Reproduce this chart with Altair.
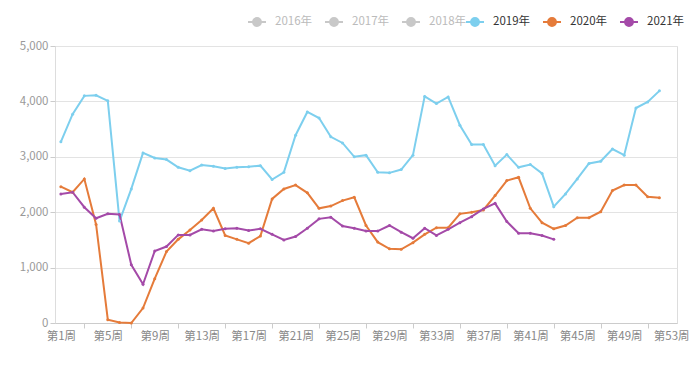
import altair as alt
import pandas as pd

# ---- data ----
years_shown = ["2019年", "2020年", "2021年"]
years_hidden = ["2016年", "2017年", "2018年"]

v2019 = [3270, 3770, 4100, 4110, 4010, 1840, 2420, 3070, 2980, 2950,
         2810, 2750, 2850, 2830, 2790, 2810, 2820, 2840, 2590, 2720,
         3390, 3810, 3700, 3360, 3250, 3000, 3030, 2720, 2710, 2770,
         3030, 4090, 3960, 4080, 3570, 3220, 3220, 2840, 3040, 2810,
         2860, 2700, 2100, 2330, 2600, 2880, 2920, 3140, 3030, 3880,
         3990, 4190]
v2020 = [2460, 2360, 2600, 1780, 60, 10, 0, 270, 800, 1290,
         1510, 1680, 1860, 2070, 1580, 1510, 1440, 1570, 2240, 2420,
         2490, 2350, 2070, 2110, 2210, 2270, 1760, 1460, 1340, 1330,
         1450, 1600, 1720, 1720, 1970, 2000, 2040, 2300, 2570, 2630,
         2070, 1810, 1700, 1760, 1900, 1900, 2010, 2390, 2490, 2490,
         2280, 2260]
v2021 = [2330, 2360, 2090, 1890, 1970, 1960, 1050, 700, 1300, 1380,
         1590, 1590, 1690, 1660, 1700, 1710, 1670, 1700, 1600, 1500,
         1560, 1710, 1880, 1910, 1750, 1710, 1660, 1660, 1760, 1640,
         1530, 1710, 1580, 1690, 1810, 1920, 2060, 2160, 1830, 1620,
         1620, 1580, 1510]

n_weeks = 53
x_label_weeks = list(range(1, 54, 4))
x_tick_weeks = list(range(3, 52, 4))
y_ticks = [0, 1000, 2000, 3000, 4000, 5000]

colors_shown = ["#7dcfee", "#e57b3a", "#a44aa8"]
colors_hidden = ["#c8c8c8", "#c8c8c8", "#c8c8c8"]

rows = []
for yr, vals in zip(years_shown, [v2019, v2020, v2021]):
    for i, v in enumerate(vals):
        rows.append({"year": yr, "week": i + 1, "value": v})
df = pd.DataFrame(rows)

dummy = pd.DataFrame({"year": years_hidden, "week": [1, 1, 1],
                      "value": [None, None, None]})

FONT = "Noto Sans CJK SC"


def circ(r):
    return f"M{r},0A{r},{r},0,1,1,{-r},0A{r},{r},0,1,1,{r},0"


sym_path = "M-1,0L1,0" + "".join(circ(r) for r in [0.44, 0.33, 0.22, 0.11])

label_expr = ("indexof(" + str(x_label_weeks) + ", datum.value) >= 0 ? "
              "'第' + datum.value + '周' : ''")
tick_test = "indexof(" + str(x_tick_weeks) + ", datum.value) >= 0"

x_enc = alt.X(
    "week:Q",
    scale=alt.Scale(domain=[0.5, n_weeks + 0.5], nice=False, zero=False),
    axis=alt.Axis(
        values=sorted(x_label_weeks + x_tick_weeks),
        labelExpr=label_expr,
        labelFlush=False,
        labelOverlap=False,
        grid=False,
        title=None,
        tickSize=5,
        tickColor="#cccccc",
        tickOpacity={"condition": {"test": tick_test, "value": 1}, "value": 0},
        domainColor="#cccccc",
        labelColor="#888888",
        labelFont=FONT,
        labelFontSize=11.5,
        labelPadding=2,
    ),
)
y_enc = alt.Y(
    "value:Q",
    scale=alt.Scale(domain=[0, 5000], nice=False),
    axis=alt.Axis(
        values=y_ticks,
        format=",d",
        title=None,
        grid=True,
        gridColor="#e3e3e3",
        domain=False,
        tickSize=5,
        tickColor="#cccccc",
        labelColor="#999999",
        labelFont=FONT,
        labelFontSize=11.5,
        labelPadding=2,
    ),
)

legend_common = dict(
    orient="none",
    direction="horizontal",
    title=None,
    symbolType=sym_path,
    symbolSize=324,
    symbolStrokeWidth=2,
    labelFont=FONT,
    labelFontSize=11.5,
    labelOffset=8,
    columnPadding=8,
    padding=0,
    legendY=-34,
)

color_enc = alt.Color(
    "year:N",
    scale=alt.Scale(domain=years_shown, range=colors_shown),
    legend=alt.Legend(legendX=410, labelColor="#333333", **legend_common),
)

lines = alt.Chart(df).mark_line(strokeWidth=2).encode(x=x_enc, y=y_enc, color=color_enc)
points = alt.Chart(df).mark_point(filled=True, size=9, opacity=1).encode(
    x=x_enc, y=y_enc, color=color_enc)

hidden = alt.Chart(dummy).mark_line(strokeWidth=2).encode(
    x=x_enc, y=y_enc,
    stroke=alt.Stroke(
        "year:N",
        scale=alt.Scale(domain=years_hidden, range=colors_hidden),
        legend=alt.Legend(legendX=192, labelColor="#bbbbbb", **legend_common),
    ),
)

chart = alt.layer(hidden, lines, points).properties(
    width=622,
    height=277,
    autosize=alt.AutoSizeParams(type="none"),
    padding={"left": 47, "top": 38, "right": 15, "bottom": 25},
).configure_view(stroke=None).configure(background="white")

chart.save("out.html", embed_options={"renderer": "svg", "actions": False})
